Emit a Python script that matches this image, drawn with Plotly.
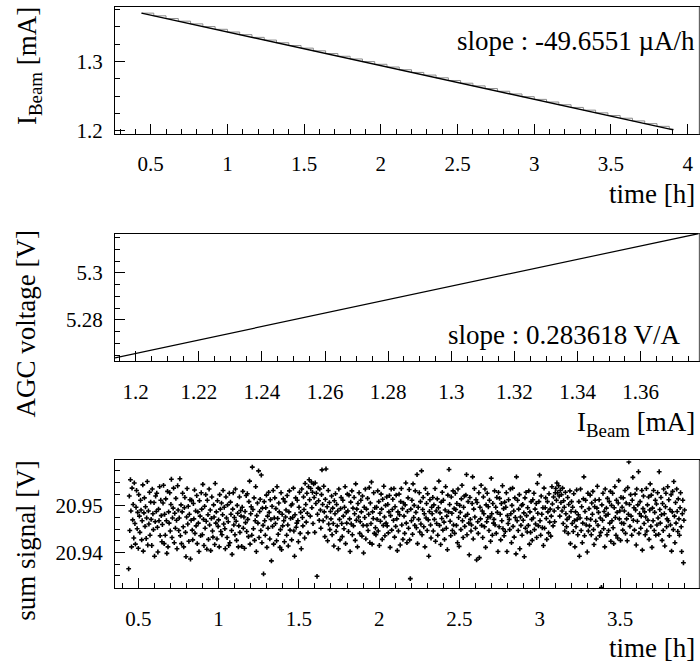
import numpy as np
import plotly.graph_objects as go

# ---------------- data ----------------
# top panel: beam current staircase (time [h], I_beam [mA])
beam_time_h = [0.44, 0.52, 0.60, 0.68, 0.76, 0.84, 0.92, 1.00, 1.08, 1.16,
               1.24, 1.32, 1.40, 1.48, 1.56, 1.64, 1.72, 1.80, 1.88, 1.96,
               2.04, 2.12, 2.20, 2.28, 2.36, 2.44, 2.52, 2.60, 2.68, 2.76,
               2.84, 2.92, 3.00, 3.08, 3.16, 3.24, 3.32, 3.40, 3.48, 3.56,
               3.64, 3.72, 3.80, 3.88, 3.906]
beam_current_mA = [1.3696, 1.3657, 1.3618, 1.3580, 1.3541, 1.3502, 1.3463, 1.3424, 1.3386, 1.3347,
                   1.3308, 1.3269, 1.3230, 1.3192, 1.3153, 1.3114, 1.3075, 1.3036, 1.2998, 1.2959,
                   1.2920, 1.2881, 1.2842, 1.2804, 1.2765, 1.2726, 1.2687, 1.2648, 1.2610, 1.2571,
                   1.2532, 1.2493, 1.2454, 1.2416, 1.2377, 1.2338, 1.2299, 1.2260, 1.2222, 1.2183,
                   1.2144, 1.2105, 1.2066, 1.2028, 1.2015]
slope_top_text = "slope : -49.6551 µA/h"

# middle panel: AGC voltage vs beam current
agc_beam_mA = [1.19344, 1.22, 1.25, 1.28, 1.31, 1.34, 1.37847]
agc_voltage_V = [5.2639, 5.2715, 5.2801, 5.2886, 5.2972, 5.3058, 5.3168]
slope_mid_text = "slope : 0.283618 V/A"

# bottom panel: sum signal vs time
sum_time_h = [
0.440,0.444,0.447,0.451,0.454,0.458,0.461,0.465,0.468,0.472,
0.475,0.479,0.482,0.486,0.489,0.493,0.496,0.500,0.503,0.507,
0.510,0.514,0.517,0.521,0.524,0.528,0.531,0.535,0.538,0.542,
0.545,0.549,0.552,0.556,0.559,0.563,0.566,0.570,0.573,0.577,
0.580,0.584,0.587,0.591,0.594,0.598,0.601,0.605,0.608,0.612,
0.615,0.619,0.622,0.626,0.629,0.633,0.636,0.640,0.643,0.647,
0.650,0.654,0.657,0.661,0.664,0.668,0.671,0.675,0.678,0.682,
0.685,0.689,0.692,0.696,0.699,0.703,0.706,0.710,0.713,0.717,
0.720,0.724,0.727,0.731,0.734,0.738,0.741,0.745,0.748,0.752,
0.755,0.759,0.762,0.766,0.769,0.773,0.776,0.780,0.783,0.787,
0.790,0.794,0.797,0.801,0.804,0.808,0.811,0.815,0.818,0.822,
0.825,0.829,0.832,0.836,0.839,0.843,0.846,0.850,0.853,0.857,
0.860,0.864,0.867,0.871,0.874,0.878,0.881,0.885,0.888,0.892,
0.895,0.899,0.902,0.906,0.909,0.913,0.916,0.920,0.923,0.927,
0.930,0.934,0.937,0.941,0.944,0.948,0.951,0.955,0.958,0.962,
0.965,0.969,0.972,0.976,0.979,0.983,0.986,0.990,0.993,0.997,
1.000,1.004,1.007,1.011,1.014,1.018,1.021,1.025,1.028,1.032,
1.035,1.039,1.042,1.046,1.049,1.053,1.056,1.060,1.063,1.067,
1.070,1.074,1.077,1.081,1.084,1.088,1.091,1.095,1.098,1.102,
1.105,1.109,1.112,1.116,1.119,1.123,1.126,1.130,1.133,1.137,
1.140,1.144,1.147,1.151,1.154,1.158,1.161,1.165,1.168,1.172,
1.175,1.179,1.182,1.186,1.189,1.193,1.196,1.200,1.203,1.207,
1.210,1.214,1.217,1.221,1.224,1.228,1.231,1.235,1.238,1.242,
1.245,1.249,1.252,1.256,1.259,1.263,1.266,1.270,1.273,1.277,
1.280,1.284,1.287,1.291,1.294,1.298,1.301,1.305,1.308,1.312,
1.315,1.319,1.322,1.326,1.329,1.333,1.336,1.340,1.343,1.347,
1.350,1.354,1.357,1.361,1.364,1.368,1.371,1.375,1.378,1.382,
1.385,1.389,1.392,1.396,1.399,1.403,1.406,1.410,1.413,1.417,
1.420,1.424,1.427,1.431,1.434,1.438,1.441,1.445,1.448,1.452,
1.455,1.459,1.462,1.466,1.469,1.473,1.476,1.480,1.483,1.487,
1.490,1.494,1.497,1.501,1.504,1.508,1.511,1.515,1.518,1.522,
1.525,1.529,1.532,1.536,1.539,1.543,1.546,1.550,1.553,1.557,
1.560,1.564,1.567,1.571,1.574,1.578,1.581,1.585,1.588,1.592,
1.595,1.599,1.602,1.606,1.609,1.613,1.616,1.620,1.623,1.627,
1.630,1.634,1.637,1.641,1.644,1.648,1.651,1.655,1.658,1.662,
1.665,1.669,1.672,1.676,1.679,1.683,1.686,1.690,1.693,1.697,
1.700,1.704,1.707,1.711,1.714,1.718,1.721,1.725,1.728,1.732,
1.735,1.739,1.742,1.746,1.749,1.753,1.756,1.760,1.763,1.767,
1.770,1.774,1.777,1.781,1.784,1.788,1.791,1.795,1.798,1.802,
1.805,1.809,1.812,1.816,1.819,1.823,1.826,1.830,1.833,1.837,
1.840,1.844,1.847,1.851,1.854,1.858,1.861,1.865,1.868,1.872,
1.875,1.879,1.882,1.886,1.889,1.893,1.896,1.900,1.903,1.907,
1.910,1.914,1.917,1.921,1.924,1.928,1.931,1.935,1.938,1.942,
1.945,1.949,1.952,1.956,1.959,1.963,1.966,1.970,1.973,1.977,
1.980,1.984,1.987,1.991,1.994,1.998,2.001,2.005,2.008,2.012,
2.015,2.019,2.022,2.026,2.029,2.033,2.036,2.040,2.043,2.047,
2.050,2.054,2.057,2.061,2.064,2.068,2.071,2.075,2.078,2.082,
2.085,2.089,2.092,2.096,2.099,2.103,2.106,2.110,2.113,2.117,
2.120,2.124,2.127,2.131,2.134,2.138,2.141,2.145,2.148,2.152,
2.155,2.159,2.162,2.166,2.169,2.173,2.176,2.180,2.183,2.187,
2.190,2.194,2.197,2.201,2.204,2.208,2.211,2.215,2.218,2.222,
2.225,2.229,2.232,2.236,2.239,2.243,2.246,2.250,2.253,2.257,
2.260,2.264,2.267,2.271,2.274,2.278,2.281,2.285,2.288,2.292,
2.295,2.299,2.302,2.306,2.309,2.313,2.316,2.320,2.323,2.327,
2.330,2.334,2.337,2.341,2.344,2.348,2.351,2.355,2.358,2.362,
2.365,2.369,2.372,2.376,2.379,2.383,2.386,2.390,2.393,2.397,
2.400,2.404,2.407,2.411,2.414,2.418,2.421,2.425,2.428,2.432,
2.435,2.439,2.442,2.446,2.449,2.453,2.456,2.460,2.463,2.467,
2.470,2.474,2.477,2.481,2.484,2.488,2.491,2.495,2.498,2.502,
2.505,2.509,2.512,2.516,2.519,2.523,2.526,2.530,2.533,2.537,
2.540,2.544,2.547,2.551,2.554,2.558,2.561,2.565,2.568,2.572,
2.575,2.579,2.582,2.586,2.589,2.593,2.596,2.600,2.603,2.607,
2.610,2.614,2.617,2.621,2.624,2.628,2.631,2.635,2.638,2.642,
2.645,2.649,2.652,2.656,2.659,2.663,2.666,2.670,2.673,2.677,
2.680,2.684,2.687,2.691,2.694,2.698,2.701,2.705,2.708,2.712,
2.715,2.719,2.722,2.726,2.729,2.733,2.736,2.740,2.743,2.747,
2.750,2.754,2.757,2.761,2.764,2.768,2.771,2.775,2.778,2.782,
2.785,2.789,2.792,2.796,2.799,2.803,2.806,2.810,2.813,2.817,
2.820,2.824,2.827,2.831,2.834,2.838,2.841,2.845,2.848,2.852,
2.855,2.859,2.862,2.866,2.869,2.873,2.876,2.880,2.883,2.887,
2.890,2.894,2.897,2.901,2.904,2.908,2.911,2.915,2.918,2.922,
2.925,2.929,2.932,2.936,2.939,2.943,2.946,2.950,2.953,2.957,
2.960,2.964,2.967,2.971,2.974,2.978,2.981,2.985,2.988,2.992,
2.995,2.999,3.002,3.006,3.009,3.013,3.016,3.020,3.023,3.027,
3.030,3.034,3.037,3.041,3.044,3.048,3.051,3.055,3.058,3.062,
3.065,3.069,3.072,3.076,3.079,3.083,3.086,3.090,3.093,3.097,
3.100,3.104,3.107,3.111,3.114,3.118,3.121,3.125,3.128,3.132,
3.135,3.139,3.142,3.146,3.149,3.153,3.156,3.160,3.163,3.167,
3.170,3.174,3.177,3.181,3.184,3.188,3.191,3.195,3.198,3.202,
3.205,3.209,3.212,3.216,3.219,3.223,3.226,3.230,3.233,3.237,
3.240,3.244,3.247,3.251,3.254,3.258,3.261,3.265,3.268,3.272,
3.275,3.279,3.282,3.286,3.289,3.293,3.296,3.300,3.303,3.307,
3.310,3.314,3.317,3.321,3.324,3.328,3.331,3.335,3.338,3.342,
3.345,3.349,3.352,3.356,3.359,3.363,3.366,3.370,3.373,3.377,
3.380,3.384,3.387,3.391,3.394,3.398,3.401,3.405,3.408,3.412,
3.415,3.419,3.422,3.426,3.429,3.433,3.436,3.440,3.443,3.447,
3.450,3.454,3.457,3.461,3.464,3.468,3.471,3.475,3.478,3.482,
3.485,3.489,3.492,3.496,3.499,3.503,3.506,3.510,3.513,3.517,
3.520,3.524,3.527,3.531,3.534,3.538,3.541,3.545,3.548,3.552,
3.555,3.559,3.562,3.566,3.569,3.573,3.576,3.580,3.583,3.587,
3.590,3.594,3.597,3.601,3.604,3.608,3.611,3.615,3.618,3.622,
3.625,3.629,3.632,3.636,3.639,3.643,3.646,3.650,3.653,3.657,
3.660,3.664,3.667,3.671,3.674,3.678,3.681,3.685,3.688,3.692,
3.695,3.699,3.702,3.706,3.709,3.713,3.716,3.720,3.723,3.727,
3.730,3.734,3.737,3.741,3.744,3.748,3.751,3.755,3.758,3.762,
3.765,3.769,3.772,3.776,3.779,3.783,3.786,3.790,3.793,3.797,
3.800,3.804,3.807,3.811,3.814,3.818,3.821,3.825,3.828,3.832,
3.835,3.839,3.842,3.846,3.849,3.853,3.856,3.860,3.863,3.867,
3.870,3.874,3.877,3.881,3.884,3.888,3.891,3.895,3.898,3.902]
sum_signal_V = [
20.9365,20.9521,20.9447,20.9556,20.9489,20.9412,20.9538,20.9470,20.9503,20.9431,
20.9549,20.9462,20.9418,20.9497,20.9533,20.9451,20.9486,20.9409,20.9524,20.9478,
20.9443,20.9512,20.9491,20.9427,20.9468,20.9545,20.9403,20.9485,20.9517,20.9456,
20.9498,20.9430,20.9474,20.9552,20.9416,20.9489,20.9461,20.9529,20.9437,20.9508,
20.9471,20.9415,20.9536,20.9483,20.9449,20.9507,20.9392,20.9466,20.9521,20.9488,
20.9527,20.9454,20.9401,20.9493,20.9468,20.9541,20.9436,20.9512,20.9479,20.9423,
20.9460,20.9506,20.9544,20.9419,20.9482,20.9437,20.9515,20.9468,20.9398,20.9531,
20.9412,20.9487,20.9463,20.9528,20.9446,20.9503,20.9557,20.9432,20.9474,20.9495,
20.9538,20.9421,20.9484,20.9452,20.9516,20.9469,20.9408,20.9543,20.9491,20.9447,
20.9474,20.9558,20.9436,20.9502,20.9419,20.9487,20.9527,20.9455,20.9412,20.9496,
20.9518,20.9443,20.9391,20.9476,20.9537,20.9461,20.9499,20.9424,20.9482,20.9513,
20.9386,20.9469,20.9512,20.9448,20.9427,20.9505,20.9472,20.9534,20.9441,20.9489,
20.9457,20.9522,20.9419,20.9487,20.9463,20.9402,20.9511,20.9478,20.9436,20.9528,
20.9493,20.9438,20.9546,20.9471,20.9415,20.9499,20.9452,20.9524,20.9467,20.9407,
20.9512,20.9481,20.9428,20.9536,20.9459,20.9491,20.9404,20.9473,20.9519,20.9446,
20.9433,20.9502,20.9476,20.9417,20.9548,20.9463,20.9487,20.9429,20.9511,20.9456,
20.9470,20.9412,20.9524,20.9493,20.9445,20.9506,20.9438,20.9481,20.9533,20.9461,
20.9497,20.9451,20.9408,20.9519,20.9474,20.9432,20.9502,20.9466,20.9415,20.9527,
20.9421,20.9508,20.9482,20.9447,20.9396,20.9493,20.9528,20.9459,20.9475,20.9438,
20.9536,20.9467,20.9426,20.9501,20.9484,20.9412,20.9457,20.9519,20.9443,20.9490,
20.9478,20.9413,20.9497,20.9531,20.9452,20.9476,20.9409,20.9488,20.9464,20.9522,
20.9445,20.9526,20.9471,20.9434,20.9509,20.9553,20.9418,20.9483,20.9498,20.9437,
20.9583,20.9492,20.9451,20.9517,20.9426,20.9468,20.9541,20.9402,20.9479,20.9506,
20.9463,20.9575,20.9432,20.9488,20.9514,20.9447,20.9566,20.9421,20.9495,20.9458,
20.9354,20.9509,20.9468,20.9437,20.9496,20.9523,20.9411,20.9478,20.9452,20.9529,
20.9486,20.9429,20.9513,20.9471,20.9382,20.9499,20.9456,20.9533,20.9418,20.9474,
20.9517,20.9462,20.9494,20.9425,20.9541,20.9473,20.9439,20.9506,20.9487,20.9411,
20.9449,20.9528,20.9406,20.9482,20.9457,20.9515,20.9468,20.9423,20.9509,20.9476,
20.9491,20.9437,20.9522,20.9459,20.9414,20.9487,20.9532,20.9448,20.9473,20.9501,
20.9427,20.9504,20.9475,20.9538,20.9446,20.9392,20.9481,20.9517,20.9454,20.9463,
20.9512,20.9468,20.9423,20.9497,20.9529,20.9441,20.9486,20.9408,20.9536,20.9475,
20.9457,20.9519,20.9492,20.9431,20.9548,20.9503,20.9465,20.9527,20.9484,20.9442,
20.9541,20.9556,20.9513,20.9478,20.9537,20.9551,20.9496,20.9529,20.9462,20.9547,
20.9518,20.9443,20.9549,20.9505,20.9527,20.9349,20.9482,20.9538,20.9511,20.9469,
20.9536,20.9491,20.9452,20.9524,20.9577,20.9503,20.9468,20.9542,20.9487,20.9434,
20.9514,20.9579,20.9476,20.9498,20.9425,20.9533,20.9461,20.9507,20.9449,20.9488,
20.9472,20.9521,20.9438,20.9495,20.9462,20.9414,20.9511,20.9483,20.9526,20.9445,
20.9503,20.9457,20.9489,20.9408,20.9536,20.9471,20.9427,20.9494,20.9518,20.9462,
20.9434,20.9512,20.9478,20.9451,20.9497,20.9541,20.9419,20.9486,20.9463,20.9525,
20.9489,20.9445,20.9523,20.9472,20.9402,20.9508,20.9461,20.9532,20.9438,20.9495,
20.9457,20.9518,20.9483,20.9426,20.9547,20.9469,20.9493,20.9412,20.9505,20.9476,
20.9528,20.9441,20.9466,20.9512,20.9487,20.9435,20.9521,20.9458,20.9399,20.9497,
20.9475,20.9536,20.9429,20.9493,20.9458,20.9516,20.9447,20.9482,20.9539,20.9421,
20.9506,20.9462,20.9551,20.9418,20.9487,20.9473,20.9528,20.9441,20.9496,20.9453,
20.9438,20.9497,20.9471,20.9532,20.9446,20.9509,20.9415,20.9484,20.9467,20.9525,
20.9493,20.9428,20.9514,20.9458,20.9542,20.9476,20.9436,20.9501,20.9463,20.9519,
20.9457,20.9503,20.9442,20.9487,20.9522,20.9411,20.9479,20.9536,20.9448,20.9492,
20.9514,20.9469,20.9537,20.9433,20.9498,20.9456,20.9523,20.9472,20.9404,20.9487,
20.9446,20.9525,20.9481,20.9416,20.9509,20.9537,20.9459,20.9494,20.9428,20.9506,
20.9478,20.9441,20.9502,20.9549,20.9463,20.9421,20.9488,20.9517,20.9452,20.9535,
20.9427,20.9344,20.9493,20.9468,20.9512,20.9439,20.9547,20.9475,20.9501,20.9458,
20.9532,20.9486,20.9453,20.9567,20.9419,20.9497,20.9471,20.9528,20.9444,20.9509,
20.9461,20.9575,20.9438,20.9492,20.9518,20.9455,20.9483,20.9412,20.9537,20.9474,
20.9505,20.9447,20.9526,20.9470,20.9392,20.9488,20.9513,20.9459,20.9431,20.9497,
20.9483,20.9518,20.9446,20.9502,20.9471,20.9537,20.9424,20.9489,20.9462,20.9515,
20.9437,20.9496,20.9553,20.9458,20.9485,20.9417,20.9508,20.9473,20.9529,20.9448,
20.9512,20.9465,20.9428,20.9491,20.9541,20.9452,20.9478,20.9406,20.9523,20.9487,
20.9578,20.9503,20.9467,20.9436,20.9519,20.9484,20.9447,20.9532,20.9459,20.9494,
20.9441,20.9527,20.9492,20.9458,20.9505,20.9421,20.9536,20.9475,20.9413,20.9501,
20.9486,20.9449,20.9515,20.9544,20.9468,20.9432,20.9497,20.9521,20.9456,20.9478,
20.9523,20.9567,20.9438,20.9482,20.9509,20.9463,20.9395,20.9518,20.9471,20.9446,
20.9459,20.9505,20.9562,20.9429,20.9493,20.9537,20.9476,20.9452,20.9513,20.9384,
20.9507,20.9466,20.9441,20.9528,20.9389,20.9497,20.9472,20.9544,20.9458,20.9489,
20.9432,20.9519,20.9483,20.9455,20.9536,20.9411,20.9502,20.9466,20.9527,20.9475,
20.9498,20.9447,20.9512,20.9476,20.9424,20.9559,20.9483,20.9437,20.9505,20.9463,
20.9471,20.9532,20.9459,20.9497,20.9441,20.9518,20.9486,20.9402,20.9529,20.9455,
20.9516,20.9482,20.9427,20.9505,20.9468,20.9543,20.9451,20.9494,20.9436,20.9508,
20.9445,20.9497,20.9528,20.9402,20.9479,20.9462,20.9513,20.9471,20.9449,20.9536,
20.9483,20.9421,20.9501,20.9538,20.9456,20.9489,20.9433,20.9517,20.9475,20.9397,
20.9562,20.9468,20.9512,20.9447,20.9493,20.9524,20.9408,20.9476,20.9458,20.9501,
20.9437,20.9503,20.9469,20.9485,20.9391,20.9517,20.9452,20.9529,20.9479,20.9444,
20.9496,20.9458,20.9532,20.9418,20.9487,20.9443,20.9509,20.9471,20.9426,20.9513,
20.9474,20.9527,20.9449,20.9493,20.9461,20.9505,20.9432,20.9548,20.9484,20.9457,
20.9509,20.9566,20.9468,20.9437,20.9521,20.9482,20.9453,20.9496,20.9415,20.9538,
20.9452,20.9496,20.9517,20.9473,20.9428,20.9509,20.9487,20.9442,20.9526,20.9465,
20.9493,20.9435,20.9478,20.9541,20.9504,20.9457,20.9519,20.9489,20.9466,20.9528,
20.9537,20.9512,20.9549,20.9528,20.9496,20.9543,20.9521,20.9478,20.9533,20.9507,
20.9524,20.9489,20.9538,20.9462,20.9511,20.9497,20.9446,20.9529,20.9483,20.9455,
20.9471,20.9518,20.9441,20.9503,20.9476,20.9532,20.9419,20.9488,20.9509,20.9462,
20.9497,20.9445,20.9526,20.9468,20.9412,20.9487,20.9455,20.9534,20.9471,20.9438,
20.9481,20.9509,20.9392,20.9474,20.9536,20.9447,20.9498,20.9421,20.9463,20.9515,
20.9562,20.9436,20.9488,20.9512,20.9459,20.9473,20.9401,20.9527,20.9446,20.9494,
20.9457,20.9523,20.9471,20.9438,20.9506,20.9482,20.9531,20.9449,20.9417,20.9498,
20.9512,20.9467,20.9429,20.9495,20.9542,20.9458,20.9486,20.9513,20.9436,20.9474,
20.9443,20.9325,20.9502,20.9469,20.9527,20.9451,20.9488,20.9412,20.9536,20.9479,
20.9495,20.9438,20.9516,20.9482,20.9447,20.9509,20.9463,20.9531,20.9424,20.9501,
20.9468,20.9527,20.9453,20.9419,20.9496,20.9541,20.9475,20.9437,20.9512,20.9486,
20.9431,20.9506,20.9554,20.9472,20.9489,20.9426,20.9518,20.9463,20.9497,20.9448,
20.9517,20.9462,20.9489,20.9533,20.9441,20.9506,20.9472,20.9425,20.9539,20.9482,
20.9594,20.9503,20.9456,20.9524,20.9478,20.9437,20.9512,20.9561,20.9469,20.9496,
20.9448,20.9525,20.9491,20.9416,20.9536,20.9467,20.9502,20.9573,20.9441,20.9483,
20.9509,20.9452,20.9478,20.9533,20.9405,20.9494,20.9521,20.9462,20.9487,20.9438,
20.9476,20.9537,20.9446,20.9502,20.9469,20.9519,20.9428,20.9491,20.9547,20.9456,
20.9523,20.9411,20.9495,20.9468,20.9533,20.9447,20.9486,20.9512,20.9437,20.9504,
20.9459,20.9528,20.9474,20.9439,20.9573,20.9492,20.9463,20.9518,20.9481,20.9426,
20.9505,20.9447,20.9536,20.9483,20.9414,20.9498,20.9527,20.9455,20.9472,20.9541,
20.9468,20.9513,20.9436,20.9492,20.9459,20.9524,20.9403,20.9487,20.9531,20.9449,
20.9552,20.9478,20.9421,20.9507,20.9463,20.9536,20.9488,20.9445,20.9515,20.9472,
20.9437,20.9496,20.9528,20.9455,20.9402,20.9483,20.9512,20.9378,20.9469,20.9491]

# ---------------- figure ----------------
W, H = 700, 670
FONT = "Liberation Serif, Times New Roman, serif"
x_dom = [115 / W, 699 / W]
panel_px = [(7, 136), (236.7, 366), (466.7, 596)]


def ydom(top_px, bottom_px):
    return [1 - bottom_px / H, 1 - top_px / H]


def axis_style(**kw):
    d = dict(showline=True, linecolor="black", linewidth=1, mirror=True,
             ticks="inside", ticklen=10, tickwidth=1, tickcolor="black",
             showgrid=False, zeroline=False,
             tickfont=dict(family=FONT, size=21, color="black"),
             minor=dict(ticks="inside", ticklen=5, tickwidth=1, tickcolor="black", showgrid=False))
    d.update(kw)
    return d


t_arr = np.array(beam_time_h)
i_arr = np.array(beam_current_mA)
fit = np.polyfit(t_arr, i_arr, 1)
fit_t = np.array([t_arr.min(), t_arr.max()])
fit_i = np.polyval(fit, fit_t)

fig = go.Figure()
fig.add_trace(go.Scatter(x=beam_time_h, y=beam_current_mA, mode="lines",
                         line=dict(color="#8c8c8c", width=1, shape="hv"),
                         xaxis="x", yaxis="y", showlegend=False))
fig.add_trace(go.Scatter(x=fit_t, y=fit_i, mode="lines",
                         line=dict(color="black", width=1.5),
                         xaxis="x", yaxis="y", showlegend=False))
fig.add_trace(go.Scatter(x=agc_beam_mA, y=agc_voltage_V, mode="lines",
                         line=dict(color="black", width=1.2),
                         xaxis="x2", yaxis="y2", showlegend=False))
fig.add_trace(go.Scatter(x=sum_time_h, y=sum_signal_V, mode="markers",
                         marker=dict(symbol="cross", size=4, color="black", line=dict(width=0)),
                         xaxis="x3", yaxis="y3", showlegend=False))

fig.update_layout(
    width=W, height=H,
    margin=dict(l=0, r=0, t=0, b=0),
    paper_bgcolor="white", plot_bgcolor="white",
    showlegend=False,
    xaxis=axis_style(domain=x_dom, anchor="y", range=[0.2673, 4.0737],
                     tick0=0.5, dtick=0.5, minor_dtick=0.1, ticklabelstandoff=11),
    yaxis=axis_style(domain=ydom(*panel_px[0]), anchor="x", range=[1.19531, 1.37855],
                     tick0=1.2, dtick=0.1, minor_dtick=0.025, ticklabelstandoff=7),
    xaxis2=axis_style(domain=x_dom, anchor="y2", range=[1.19344, 1.37847],
                      tick0=1.2, dtick=0.02, minor_dtick=0.005, ticklabelstandoff=12),
    yaxis2=axis_style(domain=ydom(*panel_px[1]), anchor="x2", range=[5.2625, 5.3168],
                      tick0=5.28, dtick=0.02, minor_dtick=0.005, ticklabelstandoff=7),
    xaxis3=axis_style(domain=x_dom, anchor="y3", range=[0.3549, 3.9919],
                      tick0=0.5, dtick=0.5, minor_dtick=0.1, ticklabelstandoff=12),
    yaxis3=axis_style(domain=ydom(*panel_px[2]), anchor="x3", range=[20.93239, 20.95973],
                      tick0=20.94, dtick=0.01, minor_dtick=0.0025, ticklabelstandoff=7),
)

# light grey right-hand frame edge, as in the reference
for top_px, bot_px in panel_px:
    d = ydom(top_px, bot_px)
    fig.add_shape(type="line", xref="paper", yref="paper",
                  x0=x_dom[1], x1=x_dom[1], y0=d[0], y1=d[1],
                  line=dict(color="#c8c8c8", width=1), layer="above")


def px(x):
    return x / W


def py(y):
    return 1 - y / H


ann_font = dict(family=FONT, size=27, color="black")
annotations = [
    dict(text=slope_top_text, x=px(697), y=py(42), xanchor="right", yanchor="middle"),
    dict(text=slope_mid_text, x=px(683), y=py(340), xanchor="right", yanchor="middle"),
    dict(text="time [h]", x=px(697), y=py(197), xanchor="right", yanchor="middle"),
    dict(text="I<sub>Beam</sub> [mA]", x=px(697), y=py(430), xanchor="right", yanchor="middle"),
    dict(text="time [h]", x=px(697), y=py(657), xanchor="right", yanchor="middle"),
    dict(text="I<sub>Beam</sub> [mA]", x=px(29), y=py(67), xanchor="center", yanchor="middle", textangle=-90),
    dict(text="AGC voltage [V]", x=px(26), y=py(329), xanchor="center", yanchor="middle", textangle=-90),
    dict(text="sum signal [V]", x=px(26), y=py(548), xanchor="center", yanchor="middle", textangle=-90),
]
for a in annotations:
    a.update(xref="paper", yref="paper", showarrow=False, font=ann_font)
fig.update_layout(annotations=annotations)

fig.write_html("out.html")
